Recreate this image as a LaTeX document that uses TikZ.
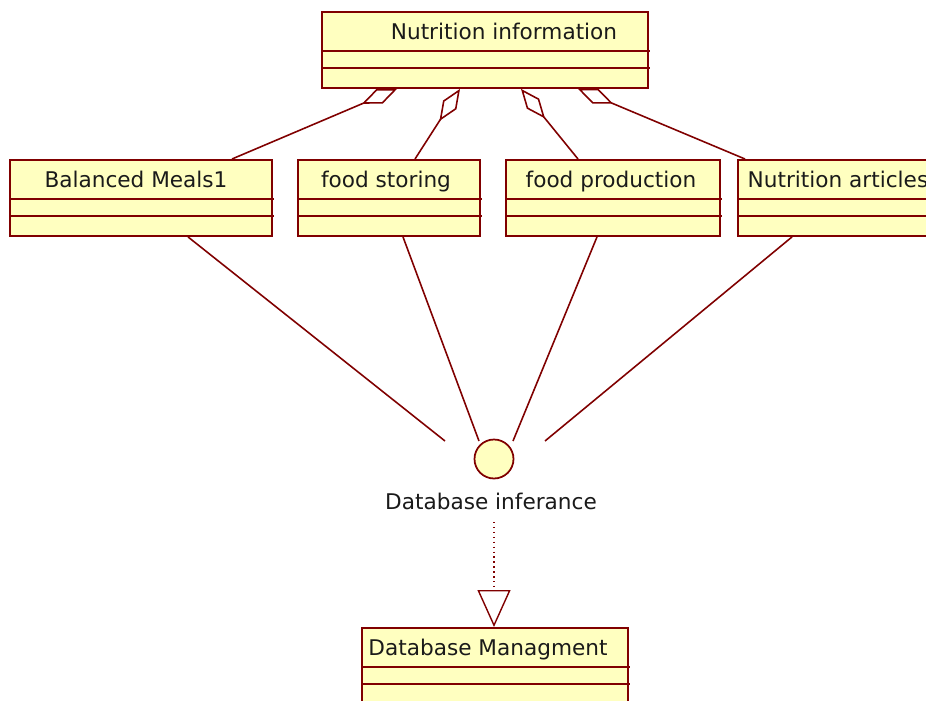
\documentclass[tikz,border=0pt]{standalone}
\usepackage{fontspec}
\setmainfont{DejaVu Sans}
\usepackage{tikz}
\usetikzlibrary{arrows.meta, calc, backgrounds}
\definecolor{umlred}{HTML}{800000}
\definecolor{umlfill}{HTML}{FFFFC0}
\definecolor{umltext}{HTML}{1A1A1A}

\begin{document}
\begin{tikzpicture}[x=0.02cm, y=-0.02cm,
    classbox/.style={draw=umlred, fill=umlfill, line width=1.1pt,
                     minimum height=1.52cm, inner sep=0pt, anchor=north west},
    classname/.style={text=umltext, font=\fontsize{12.3}{14}\selectfont,
                      inner sep=0pt, anchor=base},
    classline/.style={draw=umlred, line width=0.9pt},
    link/.style={draw=umlred, line width=0.9pt},
    agg/.style={link, -{Diamond[fill=white, length=0.76cm, width=0.32cm]}},
    realize/.style={draw=umlred, line width=0.8pt, dotted,
                    -{Triangle[open, length=0.74cm, width=0.66cm]}}]
  \useasboundingbox (0,0) rectangle (926,700);

  %% Classes: name/left/top/width/text x/text
  \foreach \n/\x/\y/\w/\tx/\t in {nutri/321/11/326/504/Nutrition information,
      meals/9/159/262/136/Balanced Meals1, storing/297/159/182/386/food storing,
      production/505/159/214/611/food production,
      articles/737/159/200/838/Nutrition articles,
      dbm/361/627/266/488/Database Managment} {
    \node[classbox, minimum width=\w*0.02cm] (\n) at (\x,\y) {};
    \node[classname] (\n-name) at (\tx,\y+28) {\t};
    \draw[classline] ($(\n.north west)+(0,40)$) -- ++(\w+3,0);
    \draw[classline] ($(\n.north west)+(0,57)$) -- ++(\w+3,0);
  }

  %% Interface
  \node[draw=umlred, fill=umlfill, line width=1pt, circle, minimum size=0.78cm,
        inner sep=0pt] (iface) at (494,459) {};
  \node[classname] (iface-name) at (491,509) {Database inferance};

  \begin{scope}[on background layer]
    \fill[white] (0,0) rectangle (926,700);
    %% Aggregations
    \draw[agg] ($(meals.north west)+(223,0)$) -- ($(nutri.south west)+(76,0)$);
    \draw[agg] ($(storing.north west)+(118,0)$) -- ($(nutri.south west)+(139,0)$);
    \draw[agg] ($(production.north west)+(73,0)$) -- ($(nutri.south west)+(200,0)$);
    \draw[agg] ($(articles.north west)+(8,0)$) -- ($(nutri.south west)+(257,0)$);
    %% Links to the interface
    \draw[link] ($(meals.south west)+(179,0)$) -- ($(iface)+(-49,-18)$);
    \draw[link] ($(storing.south west)+(106,0)$) -- ($(iface)+(-15,-18)$);
    \draw[link] ($(production.south west)+(92,0)$) -- ($(iface)+(19,-18)$);
    \draw[link] ($(articles.south west)+(55,0)$) -- ($(iface)+(51,-18)$);
    %% Realization
    \draw[realize] ($(iface-name.base)+(3,13)$) -- ($(dbm.north west)+(133,0)$);
  \end{scope}
\end{tikzpicture}
\end{document}
